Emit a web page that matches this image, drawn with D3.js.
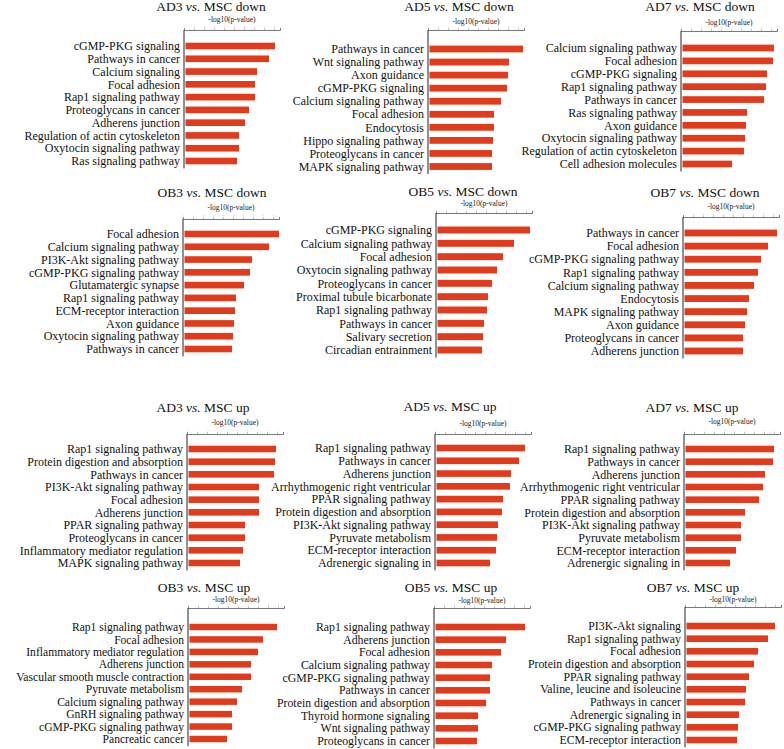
<!DOCTYPE html>
<html><head><meta charset="utf-8">
<script src="https://cdn.jsdelivr.net/npm/d3@7"></script>
<style>body{margin:0;background:#fff}svg{display:block}</style>
</head><body>
<script>
// ---- data ----
const titles = [
 ["AD3","MSC down"],["AD5","MSC down"],["AD7","MSC down"],
 ["OB3","MSC down"],["OB5","MSC down"],["OB7","MSC down"],
 ["AD3","MSC up"],["AD5","MSC up"],["AD7","MSC up"],
 ["OB3","MSC up"],["OB5","MSC up"],["OB7","MSC up"]
];
const terms_AD3_down = ["cGMP-PKG signaling","Pathways in cancer","Calcium signaling","Focal adhesion","Rap1 signaling pathway","Proteoglycans in cancer","Adherens junction","Regulation of actin cytoskeleton","Oxytocin signaling pathway","Ras signaling pathway"];
const vals_AD3_down = [9.1,8.5,7.3,7.1,7.1,6.5,6.1,5.5,5.5,5.3];
const terms_AD5_down = ["Pathways in cancer","Wnt signaling pathway","Axon guidance","cGMP-PKG signaling","Calcium signaling pathway","Focal adhesion","Endocytosis","Hippo signaling pathway","Proteoglycans in cancer","MAPK signaling pathway"];
const vals_AD5_down = [9.5,8.1,8.0,7.9,7.3,6.6,6.6,6.5,6.4,6.4];
const terms_AD7_down = ["Calcium signaling pathway","Focal adhesion","cGMP-PKG signaling","Rap1 signaling pathway","Pathways in cancer","Ras signaling pathway","Axon guidance","Oxytocin signaling pathway","Regulation of actin cytoskeleton","Cell adhesion molecules"];
const vals_AD7_down = [9.3,9.2,8.6,8.5,8.3,6.6,6.5,6.4,6.3,5.1];
const terms_OB3_down = ["Focal adhesion","Calcium signaling pathway","PI3K-Akt signaling pathway","cGMP-PKG signaling pathway","Glutamatergic synapse","Rap1 signaling pathway","ECM-receptor interaction","Axon guidance","Oxytocin signaling pathway","Pathways in cancer"];
const vals_OB3_down = [9.6,8.6,6.9,6.7,6.1,5.3,5.2,5.1,5.0,4.9];
const terms_OB5_down = ["cGMP-PKG signaling","Calcium signaling pathway","Focal adhesion","Oxytocin signaling pathway","Proteoglycans in cancer","Proximal tubule bicarbonate","Rap1 signaling pathway","Pathways in cancer","Salivary secretion","Circadian entrainment"];
const vals_OB5_down = [9.4,7.8,6.7,6.1,5.6,5.2,5.1,4.8,4.7,4.6];
const terms_OB7_down = ["Pathways in cancer","Focal adhesion","cGMP-PKG signaling pathway","Rap1 signaling pathway","Calcium signaling pathway","Endocytosis","MAPK signaling pathway","Axon guidance","Proteoglycans in cancer","Adherens junction"];
const vals_OB7_down = [9.4,8.5,7.8,7.5,7.1,6.6,6.4,6.2,6.0,6.0];
const terms_AD3_up = ["Rap1 signaling pathway","Protein digestion and absorption","Pathways in cancer","PI3K-Akt signaling pathway","Focal adhesion","Adherens junction","PPAR signaling pathway","Proteoglycans in cancer","Inflammatory mediator regulation","MAPK signaling pathway"];
const vals_AD3_up = [8.9,8.8,8.7,7.2,7.2,7.2,5.8,5.8,5.6,5.3];
const terms_AD5_up = ["Rap1 signaling pathway","Pathways in cancer","Adherens junction","Arrhythmogenic right ventricular","PPAR signaling pathway","Protein digestion and absorption","PI3K-Akt signaling pathway","Pyruvate metabolism","ECM-receptor interaction","Adrenergic signaling in"];
const vals_AD5_up = [9.0,8.4,7.6,7.5,6.8,6.7,6.3,6.2,6.1,5.5];
const terms_AD7_up = ["Rap1 signaling pathway","Pathways in cancer","Adherens junction","Arrhythmogenic right ventricular","PPAR signaling pathway","Protein digestion and absorption","PI3K-Akt signaling pathway","Pyruvate metabolism","ECM-receptor interaction","Adrenergic signaling in"];
const vals_AD7_up = [9.0,8.9,8.1,7.9,7.5,6.1,5.7,5.7,5.2,4.6];
const terms_OB3_up = ["Rap1 signaling pathway","Focal adhesion","Inflammatory mediator regulation","Adherens junction","Vascular smooth muscle contraction","Pyruvate metabolism","Calcium signaling pathway","GnRH signaling pathway","cGMP-PKG signaling pathway","Pancreatic cancer"];
const vals_OB3_up = [8.9,7.5,7.0,6.3,6.3,5.4,4.9,4.4,4.4,3.9];
const terms_OB5_up = ["Rap1 signaling pathway","Adherens junction","Focal adhesion","Calcium signaling pathway","cGMP-PKG signaling pathway","Pathways in cancer","Protein digestion and absorption","Thyroid hormone signaling","Wnt signaling pathway","Proteoglycans in cancer"];
const vals_OB5_up = [9.1,7.2,6.7,5.8,5.6,5.6,5.2,4.4,4.4,4.3];
const terms_OB7_up = ["PI3K-Akt signaling","Rap1 signaling pathway","Focal adhesion","Protein digestion and absorption","PPAR signaling pathway","Valine, leucine and isoleucine","Pathways in cancer","Adrenergic signaling in","cGMP-PKG signaling pathway","ECM-receptor interaction"];
const vals_OB7_up = [9.0,8.3,7.3,6.9,6.4,6.1,6.0,5.4,5.3,5.2];
const xTicks = [0,1,2,3,4,5,6,7,8,9];
const xMax = 9.6;
const axisTitle = "-log10(p-value)";

const termSets = [terms_AD3_down,terms_AD5_down,terms_AD7_down,terms_OB3_down,terms_OB5_down,terms_OB7_down,terms_AD3_up,terms_AD5_up,terms_AD7_up,terms_OB3_up,terms_OB5_up,terms_OB7_up];
const valSets = [vals_AD3_down,vals_AD5_down,vals_AD7_down,vals_OB3_down,vals_OB5_down,vals_OB7_down,vals_AD3_up,vals_AD5_up,vals_AD7_up,vals_OB3_up,vals_OB5_up,vals_OB7_up];

// ---- layout (positions only) ----
const layout = [
 {tx:211,ty:11,ly:22,ax:184,ay:30,y0:46,y1:161,fs:12},
 {tx:459,ty:11,ly:24,ax:428,ay:30,y0:49,y1:166.5,fs:12},
 {tx:700,ty:11,ly:25,ax:681,ay:31,y0:48,y1:164,fs:12},
 {tx:212,ty:197,ly:210,ax:183,ay:219,y0:234,y1:349,fs:12},
 {tx:463,ty:196,ly:205.5,ax:436,ay:213,y0:230,y1:350,fs:12},
 {tx:705,ty:197,ly:209,ax:683,ay:217,y0:233,y1:351,fs:12},
 {tx:203,ty:412,ly:425,ax:187,ay:434,y0:449,y1:563,fs:12},
 {tx:450,ty:411,ly:426,ax:435,ay:434,y0:448,y1:563,fs:12},
 {tx:692,ty:412,ly:424,ax:684,ay:434,y0:449,y1:563,fs:12},
 {tx:204,ty:592,ly:602,ax:188,ay:608,y0:627,y1:739,fs:11.6},
 {tx:451,ty:592,ly:603,ax:434,ay:608,y0:627,y1:741,fs:11.8},
 {tx:693,ty:592,ly:602,ax:685,ay:607,y0:626,y1:740,fs:11.8}
];
const AXW = 96, BAR = "#df3b1c";

const svg = d3.select("body").append("svg").attr("width",784).attr("height",749);
const serif = "'Liberation Serif','DejaVu Serif',serif";

layout.forEach((L,i)=>{
  const terms = termSets[i], vals = valSets[i];
  const g = svg.append("g");
  const step = (L.y1-L.y0)/(terms.length-1);
  const y = d3.scaleBand().domain(terms)
     .range([L.y0-step/2, L.y1+step/2]).paddingInner(0.48).paddingOuter(0.24);
  const x = d3.scaleLinear().domain([0,xMax]).range([L.ax, L.ax+AXW]);

  // title
  const t = g.append("text").attr("x",L.tx).attr("y",L.ty).attr("text-anchor","middle")
    .attr("font-family",serif).attr("font-size",13.5).attr("fill","#111");
  t.append("tspan").text(titles[i][0]+" ");
  t.append("tspan").attr("font-style","italic").text("vs.");
  t.append("tspan").text(" "+titles[i][1]);

  // axis title
  g.append("text").attr("x",L.ax+AXW/2).attr("y",L.ly).attr("text-anchor","middle")
    .attr("font-family",serif).attr("font-size",7.5).attr("fill","#222").text(axisTitle);

  // top axis
  const ax = d3.axisTop(x).tickValues(xTicks).tickSize(2).tickPadding(1).tickFormat(d3.format("d"));
  const axg = g.append("g").attr("transform",`translate(0,${L.ay})`).call(ax);
  axg.select(".domain").attr("stroke","#555").attr("stroke-width",0.8);
  axg.selectAll(".tick line").attr("stroke","#999").attr("stroke-width",0.6);
  axg.selectAll(".tick text").attr("font-size",2.5).attr("fill","#aaa").attr("font-family",serif);

  // left axis line
  g.append("line").attr("x1",L.ax).attr("x2",L.ax).attr("y1",L.ay).attr("y2",L.y1+step/2+1)
    .attr("stroke","#222").attr("stroke-width",1);

  // bars
  g.selectAll("rect").data(terms).join("rect")
    .attr("x",x(0)+1.5).attr("y",d=>y(d))
    .attr("width",(d,j)=>x(vals[j])-x(0)-1.5).attr("height",y.bandwidth())
    .attr("fill",BAR);

  // labels
  g.selectAll("text.lab").data(terms).join("text").attr("class","lab")
    .attr("x",L.ax-4).attr("y",d=>y(d)+y.bandwidth()/2).attr("dy","0.35em")
    .attr("text-anchor","end").attr("font-family",serif).attr("font-size",L.fs)
    .attr("fill","#111").text(d=>d);
});
</script>
</body></html>
